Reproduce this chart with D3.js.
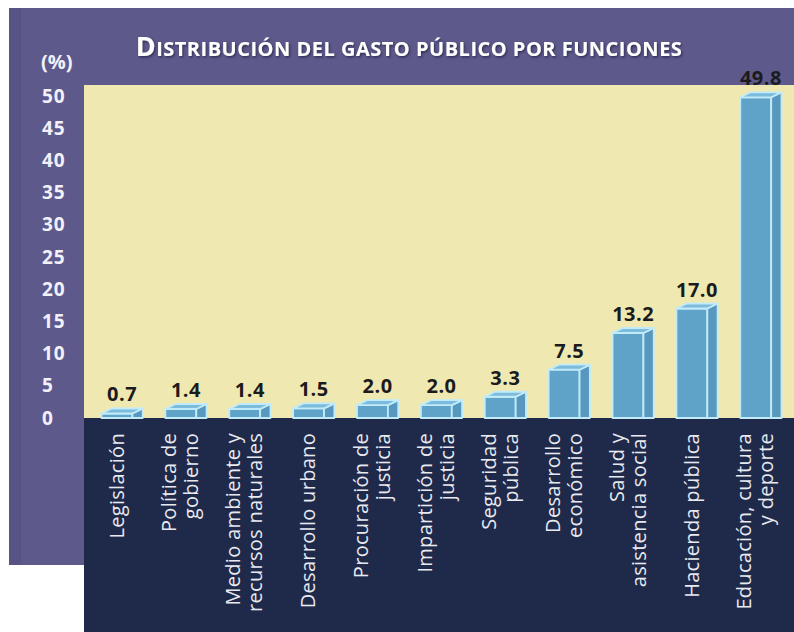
<!DOCTYPE html>
<html>
<head>
<meta charset="utf-8">
<script src="https://cdn.jsdelivr.net/npm/d3@7"></script>
<style>
	body { margin: 0; background: #ffffff; }
	text { font-family: "Open Sans", "DejaVu Sans", sans-serif; }
</style>
</head>
<body>
<svg id="chart" width="794" height="632"></svg>
<script>
// categories (line breaks as in the printed labels)
const categories = [
	"Legislación",
	"Política de\ngobierno",
	"Medio ambiente y\nrecursos naturales",
	"Desarrollo urbano",
	"Procuración de\njusticia",
	"Impartición de\njusticia",
	"Seguridad\npública",
	"Desarrollo\neconómico",
	"Salud y\nasistencia social",
	"Hacienda pública",
	"Educación, cultura\ny deporte"
];
const values = [0.7, 1.4, 1.4, 1.5, 2.0, 2.0, 3.3, 7.5, 13.2, 17.0, 49.8];
const yTicks = [0, 5, 10, 15, 20, 25, 30, 35, 40, 45, 50];
const unitLabel = "(%)";
const titleCap = "D";
const titleRest = "ISTRIBUCIÓN DEL GASTO PÚBLICO POR FUNCIONES";

class Bar3DChart {
	constructor(config) {
		this.config = config;
		this.svg = d3.select(config["domElementId"]);
		this.rows = categories.map((c, i) => ({"key": c, "value": values[i]}));
	}

	draw_panels() {
		let p = this.config["panels"];
		this.svg.append("rect").attr("x", 9).attr("y", 8).attr("width", 785).attr("height", 557).attr("fill", p["purple"]);
		this.svg.append("rect").attr("x", 9).attr("y", 8).attr("width", 12).attr("height", 557).attr("fill", p["purpleDark"]);
		this.svg.append("rect").attr("x", 84).attr("y", 85).attr("width", 710).attr("height", 333).attr("fill", p["yellow"]);
		this.svg.append("rect").attr("x", 84).attr("y", 418).attr("width", 710).attr("height", 214).attr("fill", p["navy"]);
		return this;
	}

	create_scales() {
		this.xScale = d3.scaleBand()
						.domain(categories)
						.range([90, 793])
						.paddingInner(0.355)
						.paddingOuter(0.18);

		this.yScale = d3.scaleLinear()
						.domain([0, 50])
						.range([418, 96]);
		return this;
	}

	add_yaxis() {
		let yAxis = d3.axisLeft(this.yScale)
					  .tickValues(yTicks)
					  .tickSize(0)
					  .tickPadding(0);

		let g = this.svg.append("g")
				   .attr("transform", "translate(42,0)")
				   .call(yAxis);

		g.select(".domain").remove();
		g.selectAll("text")
		 .attr("x", 0)
		 .attr("text-anchor", "start")
		 .attr("fill", "#f2f0fa")
		 .style("font-size", "19px")
		 .style("font-weight", "bold")
		 .style("letter-spacing", "1px")
		 .style("font-family", "\"Open Sans\", sans-serif");

		this.svg.append("text")
				.attr("x", 41)
				.attr("y", 69)
				.attr("fill", "#f2f0fa")
				.style("font-size", "20px")
				.style("font-weight", "bold")
				.text(unitLabel);
		return this;
	}

	add_title() {
		let defs = this.svg.append("defs");
		let f = defs.append("filter").attr("id", "shadow").attr("x", "-5%").attr("y", "-30%").attr("width", "110%").attr("height", "160%");
		f.append("feDropShadow").attr("dx", 1.2).attr("dy", 1.5).attr("stdDeviation", 0.8).attr("flood-color", "#2b2850").attr("flood-opacity", 0.9);

		let t = this.svg.append("text")
				   .attr("x", 409)
				   .attr("y", 56)
				   .attr("text-anchor", "middle")
				   .attr("fill", "#ffffff")
				   .attr("filter", "url(#shadow)")
				   .style("font-weight", "bold")
				   .style("letter-spacing", "0.5px");
		t.append("tspan").style("font-size", "27px").text(titleCap);
		t.append("tspan").style("font-size", "20px").text(titleRest);
		return this;
	}

	add_bars() {
		let xScale = this.xScale, yScale = this.yScale;
		let bw = xScale.bandwidth();
		let front = bw * 0.75, depth = bw - front, rise = 5;
		let c = this.config["bars"];
		let base = yScale(0);

		let g = this.svg.append("g")
					.selectAll("g")
					.data(this.rows)
					.enter()
					.append("g")
					.attr("stroke", c["stroke"])
					.attr("stroke-width", 1.8)
					.attr("stroke-linejoin", "round");

		g.append("rect")
		 .attr("x", d => xScale(d.key))
		 .attr("y", d => yScale(d.value))
		 .attr("width", front)
		 .attr("height", d => base - yScale(d.value))
		 .attr("fill", c["front"]);

		g.append("polygon")
		 .attr("fill", c["side"])
		 .attr("points", d => {
			let x = xScale(d.key) + front, y = yScale(d.value);
			return [[x, y], [x + depth, y - rise], [x + depth, base], [x, base]].join(" ");
		 });

		g.append("polygon")
		 .attr("fill", c["top"])
		 .attr("points", d => {
			let x = xScale(d.key), y = yScale(d.value);
			return [[x, y], [x + front, y], [x + front + depth, y - rise], [x + depth, y - rise]].join(" ");
		 });

		return this;
	}

	add_value_labels() {
		let xScale = this.xScale, yScale = this.yScale;
		this.svg.append("g")
				.selectAll("text")
				.data(this.rows)
				.enter()
				.append("text")
				.attr("x", d => xScale(d.key) + xScale.bandwidth() / 2)
				.attr("y", d => yScale(d.value) - 12)
				.attr("text-anchor", "middle")
				.attr("fill", "#1b1a1e")
				.style("font-size", "20px")
				.style("font-weight", "bold")
				.style("letter-spacing", "0.5px")
				.text(d => d3.format(".1f")(d.value));
		return this;
	}

	add_category_labels() {
		let xScale = this.xScale;
		let lineGap = 22;
		let g = this.svg.append("g")
					.selectAll("g")
					.data(this.rows)
					.enter()
					.append("g");

		g.each(function(d) {
			let lines = d.key.split("\n");
			let cx = xScale(d.key) + xScale.bandwidth() / 2 - 6;
			lines.forEach((line, i) => {
				let x = cx + (i - (lines.length - 1) / 2) * lineGap;
				d3.select(this).append("text")
							   .attr("transform", `translate(${x},433) rotate(-90)`)
							   .attr("text-anchor", "end")
							   .attr("dominant-baseline", "central")
							   .attr("fill", "#e9e9f0")
							   .style("font-size", "20px")
							   .style("letter-spacing", "0.3px")
							   .text(line);
			});
		});
		return this;
	}

	generate() {
		this.draw_panels()
			.create_scales()
			.add_yaxis()
			.add_title()
			.add_bars()
			.add_value_labels()
			.add_category_labels();
	}
}

new Bar3DChart({
	"domElementId": "#chart",
	"panels": {"purple": "#5d5a8b", "purpleDark": "#575483", "yellow": "#efe9b1", "navy": "#1f2a4b"},
	"bars": {"front": "#5fa3c9", "side": "#5898be", "top": "#7cbbdb", "stroke": "#c2ebfa"}
}).generate();
</script>
</body>
</html>
